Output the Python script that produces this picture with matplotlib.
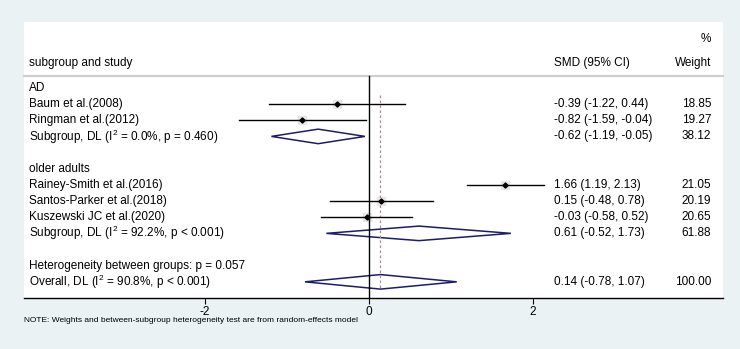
import matplotlib.pyplot as plt
from matplotlib.patches import Polygon

plt.rcParams["font.family"] = ["Liberation Sans", "DejaVu Sans"]
plt.rcParams["mathtext.fontset"] = "custom"
plt.rcParams["mathtext.rm"] = "Liberation Sans"
plt.rcParams["mathtext.default"] = "rm"

# rows of the forest plot (top to bottom)
labels = ["AD", "Baum et al.(2008)", "Ringman et al.(2012)",
          "Subgroup, DL (I$^{2}$ = 0.0%, p = 0.460)", "",
          "older adults", "Rainey-Smith et al.(2016)", "Santos-Parker et al.(2018)",
          "Kuszewski JC et al.(2020)", "Subgroup, DL (I$^{2}$ = 92.2%, p < 0.001)", "",
          "Heterogeneity between groups: p = 0.057",
          "Overall, DL (I$^{2}$ = 90.8%, p < 0.001)"]
kind = ["head", "study", "study", "sub", "", "head", "study", "study", "study", "sub", "", "head", "sub"]
est = [None, -0.39, -0.82, -0.62, None, None, 1.66, 0.15, -0.03, 0.61, None, None, 0.14]
lo = [None, -1.22, -1.59, -1.19, None, None, 1.19, -0.48, -0.58, -0.52, None, None, -0.78]
hi = [None, 0.44, -0.04, -0.05, None, None, 2.13, 0.78, 0.52, 1.73, None, None, 1.07]
weight = [None, 18.85, 19.27, 38.12, None, None, 21.05, 20.19, 20.65, 61.88, None, None, 100.00]
overall = 0.14
xticks = [-2, 0, 2]

W, H = 740, 349
fig = plt.figure(figsize=(W / 100, H / 100), dpi=100)
fig.patch.set_facecolor("#eaf2f3")

# axes covers the white panel (pixel coords)
left, right, top, bottom = 24, 723, 22, 298
ax = fig.add_axes([left / W, 1 - bottom / H, (right - left) / W, (bottom - top) / H])
ax.set_facecolor("white")
ax.set_xlim((left - 369) / 82, (right - 369) / 82)
ax.set_ylim(13, -4.08)

for s in ["top", "left", "right"]:
    ax.spines[s].set_visible(False)
ax.spines["bottom"].set_linewidth(1.0)
ax.set_yticks([])
ax.set_xticks(xticks)
ax.set_xticklabels([str(t) for t in xticks], fontsize=8.5)
ax.tick_params(axis="x", length=4, width=0.8, pad=2)

fs = 8.5
tr = ax.get_yaxis_transform()  # x in axes fraction, y in data
xl, xs, xw = 0.007, 0.758, 0.983

# headers
ax.text(xl, -1.55, "subgroup and study", fontsize=fs, va="center", transform=tr)
ax.text(xs, -1.55, "SMD (95% CI)", fontsize=fs, va="center", transform=tr)
ax.text(xw, -1.55, "Weight", fontsize=fs, va="center", ha="right", transform=tr)
ax.text(xw, -3.03, "%", fontsize=fs, va="center", ha="right", transform=tr)
ax.plot([0, 1], [-0.74, -0.74], color="#cfcfcf", lw=1.6, transform=tr, clip_on=False)

# null line and overall line
ax.plot([0, 0], [-0.74, 13], color="black", lw=1.0)
ax.plot([overall, overall], [0.43, 12.5], color="#b08a8a", lw=0.9, ls=(0, (2, 2)))

for i, lab in enumerate(labels):
    if lab:
        ax.text(xl, i, lab, fontsize=fs, va="center", transform=tr)
    if est[i] is None:
        continue
    ax.text(xs, i, f"{est[i]:.2f} ({lo[i]:.2f}, {hi[i]:.2f})", fontsize=fs, va="center", transform=tr)
    ax.text(xw, i, f"{weight[i]:.2f}", fontsize=fs, va="center", ha="right", transform=tr)
    if kind[i] == "study":
        ax.plot([lo[i], hi[i]], [i, i], color="black", lw=1.0)
        ax.plot(est[i], i, marker="s", color="#e6e6e6", ms=6, zorder=1)
        ax.plot(est[i], i, marker="D", color="black", ms=2.6, zorder=3)
    else:
        h = 0.45
        poly = Polygon([(lo[i], i), (est[i], i - h), (hi[i], i), (est[i], i + h)],
                       closed=True, fill=False, edgecolor="#1c1c6e", lw=1.1)
        ax.add_patch(poly)

fig.text(left / W, 1 - 321 / H,
         "NOTE: Weights and between-subgroup heterogeneity test are from random-effects model",
         fontsize=6, va="center")

fig.savefig("out.png", dpi=100, facecolor=fig.get_facecolor())
